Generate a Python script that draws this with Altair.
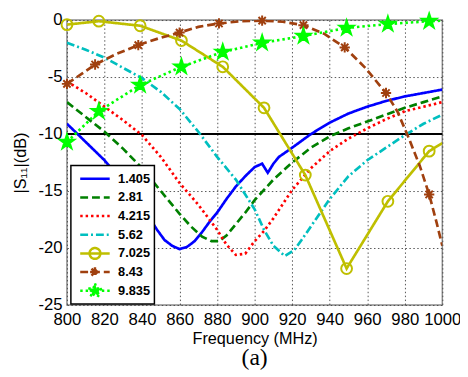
import math
import altair as alt
import pandas as pd

# ---------------- data ----------------
series_names = ["1.405", "2.81", "4.215", "5.62", "7.025", "8.43", "9.835"]

f_1405 = [800, 805, 810, 820, 830, 840, 848, 852, 856, 860, 864, 868, 872, 876, 880, 885, 890, 895, 900, 904, 907, 910, 913, 920, 930, 940, 950, 960, 970, 980, 990, 1000]
s_1405 = [-9.1, -9.9, -10.7, -12.3, -14.2, -16.3, -18.4, -19.3, -19.8, -20.1, -19.9, -19.4, -18.6, -17.7, -16.9, -15.7, -14.6, -13.7, -12.9, -12.6, -13.4, -12.6, -12.0, -11.2, -10.0, -9.0, -8.2, -7.6, -7.1, -6.7, -6.4, -6.1]

f_281 = [800, 810, 820, 830, 840, 850, 860, 866, 872, 877, 881, 885, 890, 895, 900, 910, 920, 930, 940, 950, 960, 970, 980, 990, 1000]
s_281 = [-7.2, -8.5, -9.8, -11.3, -13.0, -15.0, -17.0, -18.1, -19.0, -19.4, -19.4, -18.9, -17.9, -16.9, -15.8, -14.0, -12.5, -11.2, -10.2, -9.5, -8.9, -8.3, -7.7, -7.2, -6.7]

f_4215 = [800, 810, 820, 830, 840, 850, 860, 870, 880, 885, 890, 895, 900, 905, 910, 920, 930, 940, 950, 960, 970, 980, 990, 1000]
s_4215 = [-5.4, -6.4, -7.6, -8.8, -10.1, -12.0, -14.3, -16.2, -18.4, -19.7, -20.6, -20.5, -19.4, -18.5, -17.4, -14.9, -13.0, -11.5, -10.4, -9.5, -8.7, -8.0, -7.6, -7.2]

f_562 = [800, 810, 820, 830, 840, 850, 860, 870, 880, 890, 900, 905, 910, 916, 921, 925, 930, 940, 950, 960, 970, 980, 990, 1000]
s_562 = [-2.0, -2.6, -3.3, -4.2, -5.1, -6.3, -7.8, -9.8, -12.0, -14.0, -16.6, -18.4, -19.8, -20.7, -20.2, -19.3, -18.1, -15.7, -13.7, -12.3, -11.2, -10.1, -9.1, -8.3]

f_7025 = [800, 817, 839, 861, 883, 905, 927, 949, 971, 993, 1000]
s_7025 = [-0.4, -0.1, -0.5, -1.8, -4.1, -7.7, -13.6, -21.8, -15.9, -11.5, -10.8]
m_7025 = [1, 1, 1, 1, 1, 1, 1, 1, 1, 1, 0]

f_843 = [800, 808, 815, 826, 838, 849, 860, 870, 881, 893, 904, 915, 926, 937, 948, 959, 970, 976, 982, 988, 993, 997, 1000]
s_843 = [-5.6, -4.7, -3.9, -3.0, -2.2, -1.6, -1.1, -0.6, -0.3, -0.1, -0.05, -0.15, -0.45, -1.2, -2.4, -4.2, -6.4, -8.0, -10.3, -12.8, -15.3, -17.8, -19.8]
m_843 = [1, 0, 1, 0, 1, 0, 1, 0, 1, 0, 1, 0, 1, 0, 1, 0, 1, 0, 0, 0, 1, 0, 0]

f_9835 = [800, 817, 839, 861, 883, 904, 926, 949, 971, 993, 1000]
s_9835 = [-10.7, -8.0, -5.7, -4.1, -2.8, -2.0, -1.4, -0.7, -0.35, -0.1, -0.05]
m_9835 = [1, 1, 1, 1, 1, 1, 1, 1, 1, 1, 0]

ref_level = [-10]
x_ticks = list(range(800, 1001, 20))
y_ticks = [0, -5, -10, -15, -20, -25]

# ---------------- table ----------------
rows = []
for name, fs, ss, ms in [
    ("1.405", f_1405, s_1405, None),
    ("2.81", f_281, s_281, None),
    ("4.215", f_4215, s_4215, None),
    ("5.62", f_562, s_562, None),
    ("7.025", f_7025, s_7025, m_7025),
    ("8.43", f_843, s_843, m_843),
    ("9.835", f_9835, s_9835, m_9835),
]:
    for i, (fv, sv) in enumerate(zip(fs, ss)):
        rows.append({"f": fv, "s": sv, "series": name,
                     "marker": bool(ms[i]) if ms is not None else False})
df = pd.DataFrame(rows)

# ---------------- styles ----------------
colors = ["#0000FF", "#008000", "#FF0000", "#00BFBF", "#BFBF00", "#A0400F", "#00FF00"]
dashes = [[1, 0], [8, 4], [2.5, 3], [8, 3, 2, 3], [1, 0], [8, 4], [2.5, 3]]
fills = ["transparent"] * 6 + ["#00FF00"]


def circle_path(r):
    return f"M{-r},0A{r},{r} 0 1,1 {r},0A{r},{r} 0 1,1 {-r},0Z"


def asterisk_path(r):
    a = r * 0.707
    return (f"M{-r},0L{r},0M0,{-r}L0,{r}"
            f"M{-a:.3f},{-a:.3f}L{a:.3f},{a:.3f}M{-a:.3f},{a:.3f}L{a:.3f},{-a:.3f}")


def star_path(r, ratio=0.382):
    pts = []
    for k in range(10):
        ang = -math.pi / 2 + k * math.pi / 5
        rr = r if k % 2 == 0 else r * ratio
        pts.append(f"{rr * math.cos(ang):.3f},{rr * math.sin(ang):.3f}")
    return "M" + "L".join(pts) + "Z"


# plot markers (size 121 -> unit = 5.5px)
marker_paths = ["circle", "circle", "circle", "circle",
                circle_path(1.0), asterisk_path(0.95), star_path(1.4)]
# legend symbols (size 900 -> unit = 15px)
line_seg = "M-1,0L1,0"
legend_paths = [line_seg, line_seg, line_seg, line_seg,
                line_seg + circle_path(0.367),
                line_seg + asterisk_path(0.33),
                line_seg + star_path(0.5)]

stroke_scale = alt.Scale(domain=series_names, range=colors)
dash_scale = alt.Scale(domain=series_names, range=dashes)
fill_scale = alt.Scale(domain=series_names, range=fills)

X = alt.X("f:Q", scale=alt.Scale(domain=[800, 1000], nice=False, zero=False),
          axis=alt.Axis(values=x_ticks, title="Frequency (MHz)", grid=True,
                        labelExpr="toString(datum.value)", labelOverlap=False,
                        labelFlush=False, labelPadding=7, titlePadding=3))
Y = alt.Y("s:Q", scale=alt.Scale(domain=[-25, 0], nice=False),
          axis=alt.Axis(values=y_ticks, title="|S₁₁|(dB)", grid=True,
                        labelExpr="toString(datum.value)", labelOverlap=False,
                        labelFlush=False, labelPadding=5, titlePadding=10))

base = alt.Chart(df)

ref = alt.Chart(pd.DataFrame({"s": ref_level})).mark_rule(
    color="black", strokeWidth=2).encode(y=alt.Y("s:Q"))

lines = base.mark_line(strokeWidth=2.7, clip=True).encode(
    x=X, y=Y,
    stroke=alt.Stroke("series:N", scale=stroke_scale, legend=None),
    strokeDash=alt.StrokeDash("series:N", scale=dash_scale, legend=None),
    detail="series:N",
)

markers = base.transform_filter(alt.datum.marker).mark_point(
    size=121, strokeWidth=2, opacity=1).encode(
    x=X, y=Y,
    stroke=alt.Stroke("series:N", scale=stroke_scale, legend=None),
    fill=alt.Fill("series:N", scale=fill_scale, legend=None),
    shape=alt.Shape("series:N", scale=alt.Scale(domain=series_names, range=marker_paths), legend=None),
)

leg = base.transform_filter("datum.s > 100").mark_point(
    size=900, strokeWidth=2.5, opacity=1).encode(
    x=X, y=Y,
    stroke=alt.Stroke("series:N", scale=stroke_scale, legend=alt.Legend(title=None)),
    fill=alt.Fill("series:N", scale=fill_scale, legend=alt.Legend(title=None)),
    strokeDash=alt.StrokeDash("series:N", scale=dash_scale, legend=alt.Legend(title=None)),
    shape=alt.Shape("series:N", scale=alt.Scale(domain=series_names, range=legend_paths),
                    legend=alt.Legend(title=None)),
)

chart = alt.layer(ref, lines, markers, leg).resolve_scale(
    stroke="independent", fill="independent", strokeDash="independent", shape="independent"
).properties(
    width=382, height=290,
    autosize=alt.AutoSizeParams(type="none"),
    padding={"left": 60, "top": 9, "right": 18, "bottom": 70},
    title=alt.TitleParams("(a)", orient="bottom", font="Liberation Serif", fontSize=24,
                          fontWeight="normal", color="black", offset=0),
).configure_view(
    stroke="#8c8c8c", strokeWidth=1.5
).configure_axis(
    labelFont="Liberation Sans", labelFontSize=17, labelColor="black",
    titleFont="Liberation Sans", titleFontSize=16.5, titleFontWeight="normal", titleColor="black",
    gridColor="#444444", gridDash=[1.5, 2.5], gridWidth=1, gridOpacity=0.9,
    domain=False, ticks=False,
).configure_legend(
    orient="none", legendX=4, legendY=148,
    strokeColor="black", strokeWidth=1.5, fillColor="white", cornerRadius=0,
    padding=4, symbolOffset=4, rowPadding=0, clipHeight=19,
    symbolSize=900, symbolStrokeWidth=2.5, labelOffset=7,
    labelFont="Liberation Sans", labelFontSize=13, labelFontWeight="bold", labelColor="black",
)

chart.save("out.html", embed_options={"renderer": "svg", "actions": False})
